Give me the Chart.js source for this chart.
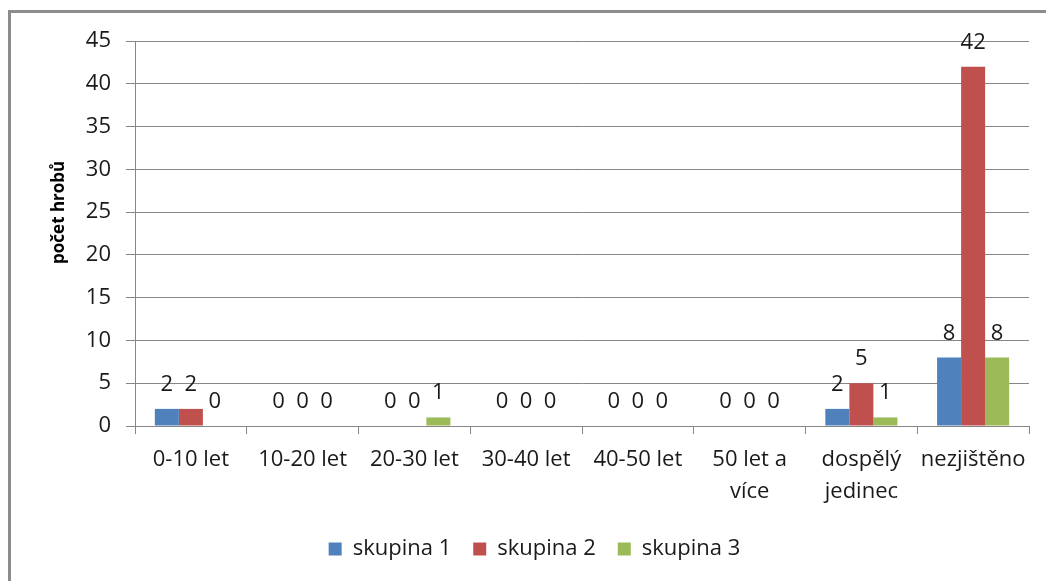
<!DOCTYPE html>
<html>
<head>
<meta charset="utf-8">
<script src="https://cdn.jsdelivr.net/npm/chart.js"></script>
<style>
  html, body { margin: 0; padding: 0; background: #fff; }
  #wrap { position: relative; width: 1046px; height: 581px; overflow: hidden; }
  #frame { position: absolute; left: 8px; top: 10px; width: 1100px; height: 700px;
           border-left: 3px solid #8c8c8c; border-top: 3px solid #8c8c8c; }
  canvas { position: absolute; left: 0; top: 0; }
</style>
</head>
<body>
<div id="wrap">
  <div id="frame"></div>
  <canvas id="chart" width="1046" height="581"></canvas>
</div>
<script>
// kategorie a hodnoty
const categories = ['0-10 let', '10-20 let', '20-30 let', '30-40 let', '40-50 let', ['50 let a', 'více'], ['dospělý', 'jedinec'], 'nezjištěno'];
const skupina1 = [2, 0, 0, 0, 0, 0, 2, 8];
const skupina2 = [2, 0, 0, 0, 0, 0, 5, 42];
const skupina3 = [0, 0, 1, 0, 0, 0, 1, 8];
const seriesNames = ['skupina 1', 'skupina 2', 'skupina 3'];
const seriesColors = ['#4f81bd', '#c0504d', '#9bbb59'];
const yTicks = [0, 5, 10, 15, 20, 25, 30, 35, 40, 45];
const yTitle = 'počet hrobů';

const FONT = '"Open Sans", Calibri, sans-serif';
const GRID = '#868686';

// popisky hodnot nad sloupci
const valueLabels = {
    id: 'valueLabels',
    afterDatasetsDraw(chart) {
        const ctx = chart.ctx;
        ctx.save();
        ctx.font = '22px ' + FONT;
        ctx.fillStyle = '#1a1a1a';
        ctx.textAlign = 'center';
        ctx.textBaseline = 'alphabetic';
        chart.data.datasets.forEach((ds, i) => {
            chart.getDatasetMeta(i).data.forEach((bar, j) => {
                ctx.fillText(String(ds.data[j]), bar.x, bar.y - 18);
            });
        });
        ctx.restore();
    }
};

// svislý popis osy y
const axisTitle = {
    id: 'axisTitle',
    afterDraw(chart) {
        const ctx = chart.ctx;
        const a = chart.chartArea;
        ctx.save();
        ctx.translate(59, a.top + (a.bottom - a.top) * 0.445);
        ctx.rotate(-Math.PI / 2);
        ctx.font = 'bold 17px ' + FONT;
        ctx.fillStyle = '#000';
        ctx.textAlign = 'center';
        ctx.textBaseline = 'middle';
        ctx.fillText(yTitle, 0, 0);
        ctx.restore();
    }
};

new Chart(document.getElementById('chart'), {
    type: 'bar',
    data: {
        labels: categories,
        datasets: [
            { label: seriesNames[0], data: skupina1, backgroundColor: seriesColors[0] },
            { label: seriesNames[1], data: skupina2, backgroundColor: seriesColors[1] },
            { label: seriesNames[2], data: skupina3, backgroundColor: seriesColors[2] }
        ]
    },
    options: {
        responsive: false,
        animation: false,
        events: [],
        layout: { padding: { left: 40, top: 41, right: 17, bottom: 11 } },
        datasets: { bar: { categoryPercentage: 0.645, barPercentage: 1.0 } },
        scales: {
            x: {
                afterFit: s => { s.height = 90; },
                grid: { display: true, drawOnChartArea: false, color: GRID, tickLength: 8, offset: true },
                border: { color: GRID, width: 1 },
                ticks: { color: '#1a1a1a', font: { family: FONT, size: 22, lineHeight: 1.45 }, padding: 10, maxRotation: 0, autoSkip: false }
            },
            y: {
                min: 0, max: 45,
                afterBuildTicks: s => { s.ticks = yTicks.map(v => ({ value: v })); },
                afterFit: s => { s.width = 95; },
                grid: { color: GRID, tickLength: 9 },
                border: { color: GRID, width: 1 },
                ticks: { color: '#1a1a1a', font: { family: FONT, size: 22 }, padding: 15 }
            }
        },
        plugins: {
            legend: {
                position: 'bottom',
                labels: { color: '#1a1a1a', font: { family: FONT, size: 22 }, boxWidth: 13, boxHeight: 13, padding: 22 }
            },
            tooltip: { enabled: false }
        }
    },
    plugins: [valueLabels, axisTitle]
});
</script>
</body>
</html>
